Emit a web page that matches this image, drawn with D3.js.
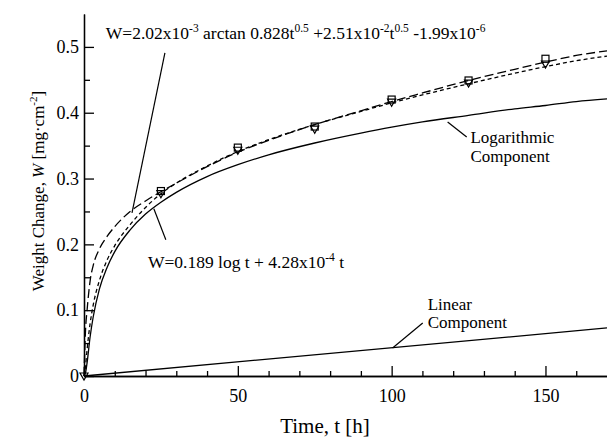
<!DOCTYPE html>
<html lang="en">
<head>
<meta charset="utf-8">
<title>Weight change vs time</title>
<script src="https://cdn.jsdelivr.net/npm/d3@7"></script>
<style>
  body { margin: 0; background: #fff; }
  svg text { font-family: "Liberation Serif", "DejaVu Serif", serif; fill: #000; }
  .axis path, .axis line { stroke: #000; stroke-width: 1.3; }
</style>
</head>
<body>
<script>
// time grid for the fitted curves [h]
var tFit = [0, 0.5, 1, 2, 3, 5, 7.5, 10, 15, 20, 25, 30, 40, 50, 60, 75, 90, 100, 110, 125, 140, 150, 160, 170];

// arctan fit (long dash)
var arctanFit = [0, 0.07, 0.1, 0.145, 0.168, 0.193, 0.212, 0.227, 0.25, 0.266, 0.28, 0.293, 0.318, 0.34, 0.358, 0.382, 0.403, 0.417, 0.43, 0.449, 0.466, 0.477, 0.487, 0.494];

// log + linear fit (short dash)
var logLinFit = [0, 0.015, 0.04, 0.08, 0.108, 0.145, 0.176, 0.198, 0.23, 0.256, 0.277, 0.293, 0.319, 0.341, 0.359, 0.382, 0.402, 0.415, 0.427, 0.444, 0.46, 0.47, 0.479, 0.486];

// logarithmic component (solid)
var logComponent = [0, 0.005, 0.02, 0.06, 0.09, 0.132, 0.165, 0.189, 0.222, 0.246, 0.264, 0.279, 0.303, 0.321, 0.336, 0.354, 0.369, 0.378, 0.386, 0.396, 0.406, 0.411, 0.417, 0.421];

// linear component (solid)
var tLin = [0, 170];
var linComponent = [0, 0.073];

// measured points
var tSquares = [25, 50, 75, 100, 125, 150];
var wSquares = [0.281, 0.347, 0.379, 0.42, 0.449, 0.482];
var tTriangles = [0, 25, 50, 75, 100, 125, 150];
var wTriangles = [0, 0.277, 0.343, 0.375, 0.416, 0.445, 0.474];

// axes
var xMajor = [0, 50, 100, 150];
var xMinor = [10, 20, 30, 40, 60, 70, 80, 90, 110, 120, 130, 140, 160];
var yMajor = [0, 0.1, 0.2, 0.3, 0.4, 0.5];
var yTickLabels = ["0", "0.1", "0.2", "0.3", "0.4", "0.5"];
var yMinor = [0.05, 0.15, 0.25, 0.35, 0.45];

var w = 607, h = 438;
var serif = "'Liberation Serif', 'DejaVu Serif', serif";

var xScale = d3.scaleLinear().domain([0, 170]).range([84, 607]);
var yScale = d3.scaleLinear().domain([0, 0.55]).range([376, 14]);

var svg = d3.select("body").append("svg")
    .attr("width", w)
    .attr("height", h)
    .attr("font-family", serif);

function zip(ts, ws) {
    return ts.map(function(t, i) { return [t, ws[i]]; });
}

var line = d3.line()
    .x(function(d) { return xScale(d[0]); })
    .y(function(d) { return yScale(d[1]); })
    .curve(d3.curveMonotoneX);

// curves
svg.append("path").datum(zip(tFit, logComponent))
    .attr("d", line).attr("fill", "none").attr("stroke", "#000").attr("stroke-width", 1.3);
svg.append("path").datum(zip(tLin, linComponent))
    .attr("d", line).attr("fill", "none").attr("stroke", "#000").attr("stroke-width", 1.3);
svg.append("path").datum(zip(tFit, logLinFit))
    .attr("d", line).attr("fill", "none").attr("stroke", "#000").attr("stroke-width", 1.3)
    .attr("stroke-dasharray", "4,3");
svg.append("path").datum(zip(tFit, arctanFit))
    .attr("d", line).attr("fill", "none").attr("stroke", "#000").attr("stroke-width", 1.3)
    .attr("stroke-dasharray", "9,4");

// markers
svg.selectAll("rect.sq").data(zip(tSquares, wSquares)).enter()
    .append("rect").attr("class", "sq")
    .attr("x", function(d) { return xScale(d[0]) - 3.5; })
    .attr("y", function(d) { return yScale(d[1]) - 3.5; })
    .attr("width", 7).attr("height", 7)
    .attr("fill", "none").attr("stroke", "#000").attr("stroke-width", 1.2);

svg.selectAll("path.tri").data(zip(tTriangles, wTriangles)).enter()
    .append("path").attr("class", "tri")
    .attr("transform", function(d) { return "translate(" + xScale(d[0]) + "," + yScale(d[1]) + ")"; })
    .attr("d", "M-4,-3L4,-3L0,4Z")
    .attr("fill", "none").attr("stroke", "#000").attr("stroke-width", 1.2);

// axes
var xAxis = d3.axisBottom(xScale).tickValues(xMajor).tickSize(-10).tickSizeOuter(0).tickPadding(13);
var xAxisMinor = d3.axisBottom(xScale).tickValues(xMinor).tickSize(-5).tickSizeOuter(0).tickFormat("");
var yAxis = d3.axisLeft(yScale).tickValues(yMajor).tickSize(-10).tickSizeOuter(0).tickPadding(5)
    .tickFormat(function(d, i) { return yTickLabels[i]; });
var yAxisMinor = d3.axisLeft(yScale).tickValues(yMinor).tickSize(-6).tickSizeOuter(0).tickFormat("");

svg.append("g").attr("class", "axis").attr("transform", "translate(0," + yScale(0) + ")").call(xAxis);
svg.append("g").attr("class", "axis").attr("transform", "translate(0," + yScale(0) + ")").call(xAxisMinor);
svg.append("g").attr("class", "axis").attr("transform", "translate(" + xScale(0) + ",0)").call(yAxis);
svg.append("g").attr("class", "axis").attr("transform", "translate(" + xScale(0) + ",0)").call(yAxisMinor);

svg.selectAll(".axis").attr("font-family", serif).attr("font-size", 18);

// axis titles
svg.append("text")
    .attr("x", 325).attr("y", 433)
    .attr("text-anchor", "middle").attr("font-size", 21)
    .text("Time, t [h]");

var yl = svg.append("text")
    .attr("transform", "translate(44,191) rotate(-90)")
    .attr("text-anchor", "middle").attr("font-size", 17);
yl.append("tspan").text("Weight Change, ");
yl.append("tspan").attr("font-style", "italic").text("W");
yl.append("tspan").text(" [mg\u00b7cm");
yl.append("tspan").attr("dy", -7).attr("font-size", 11).text("-2");
yl.append("tspan").attr("dy", 7).text("]");

// annotations: text parts, superscripts marked with sup
function supText(sel, parts) {
    var shift = 0;
    parts.forEach(function(p) {
        if (p.sup) {
            sel.append("tspan").attr("dy", -7 - shift).attr("font-size", 11.5).text(p.sup);
            shift = -7;
        } else {
            sel.append("tspan").attr("dy", -shift).text(p.t);
            shift = 0;
        }
    });
}

var a1 = svg.append("text")
    .attr("x", xScale(7.1)).attr("y", yScale(0.512)).attr("font-size", 17.5);
supText(a1, [
    {t: "W=2.02x10"}, {sup: "-3"}, {t: " arctan 0.828t"}, {sup: "0.5"},
    {t: " +2.51x10"}, {sup: "-2"}, {t: "t"}, {sup: "0.5"},
    {t: " -1.99x10"}, {sup: "-6"}
]);

var a2 = svg.append("text")
    .attr("x", xScale(20.8)).attr("y", yScale(0.164)).attr("font-size", 17.5);
supText(a2, [{t: "W=0.189 log t + 4.28x10"}, {sup: "-4"}, {t: " t"}]);

svg.append("text").attr("x", xScale(125.6)).attr("y", yScale(0.354)).attr("font-size", 17).text("Logarithmic");
svg.append("text").attr("x", xScale(125.6)).attr("y", yScale(0.325)).attr("font-size", 17).text("Component");
svg.append("text").attr("x", xScale(111.7)).attr("y", yScale(0.1)).attr("font-size", 17).text("Linear");
svg.append("text").attr("x", xScale(111.7)).attr("y", yScale(0.073)).attr("font-size", 17).text("Component");

// leader lines [t1, w1, t2, w2]
var leaders = [
    [26.3, 0.491, 15.6, 0.248],
    [26.6, 0.207, 22.7, 0.254],
    [118.2, 0.386, 124.4, 0.363],
    [100.3, 0.0426, 110.1, 0.0805]
];
svg.selectAll("line.leader").data(leaders).enter()
    .append("line").attr("class", "leader")
    .attr("x1", function(d) { return xScale(d[0]); })
    .attr("y1", function(d) { return yScale(d[1]); })
    .attr("x2", function(d) { return xScale(d[2]); })
    .attr("y2", function(d) { return yScale(d[3]); })
    .attr("stroke", "#000").attr("stroke-width", 1.2);
</script>
</body>
</html>
